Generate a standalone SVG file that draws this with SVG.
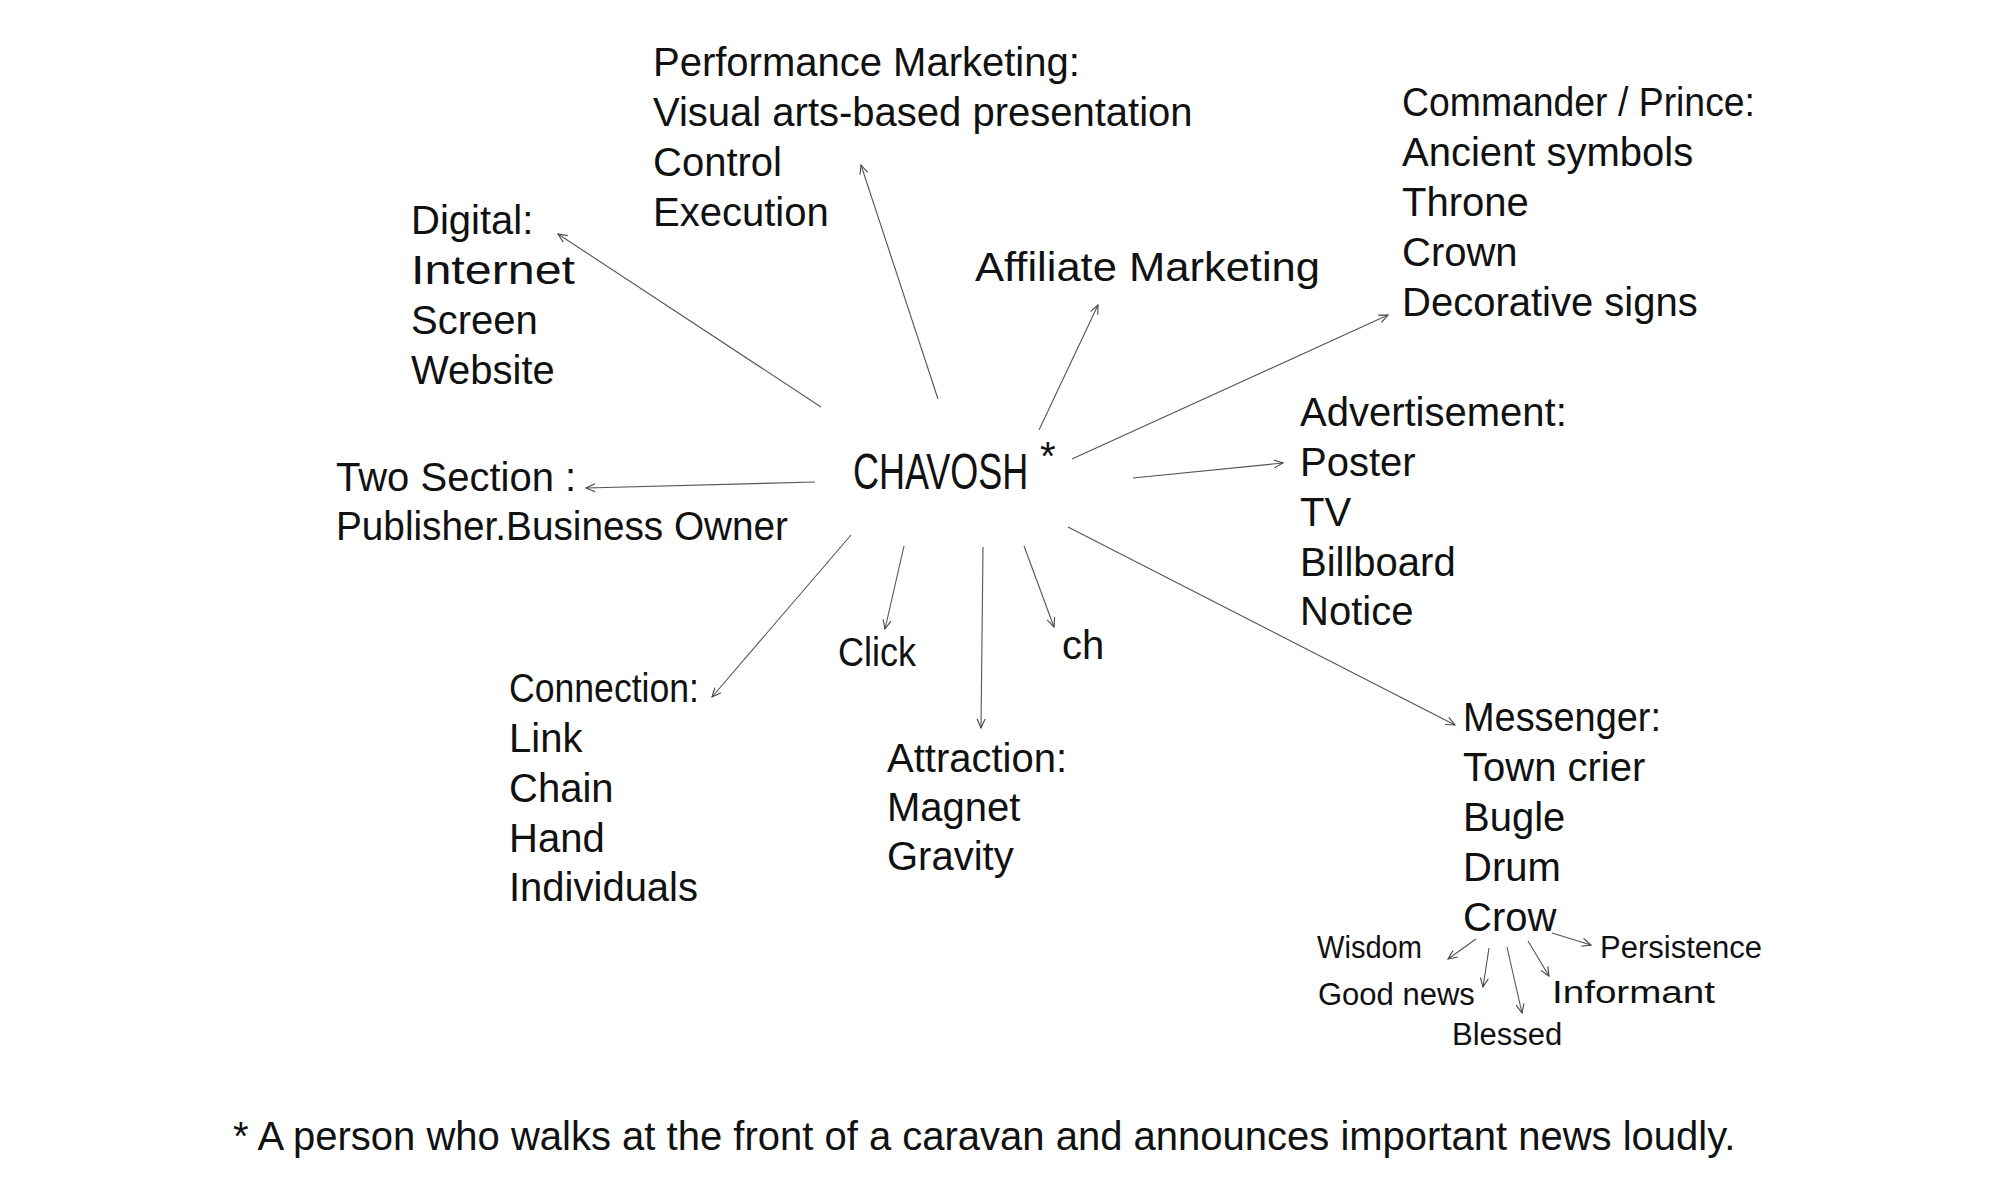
<svg xmlns="http://www.w3.org/2000/svg" width="2000" height="1200" viewBox="0 0 2000 1200">
<style>
text{font-family:"Liberation Sans","DejaVu Sans",sans-serif;fill:#111;}
.t{font-size:40px;}
.s{font-size:31px;}
.c{stroke:#555;stroke-width:1.1;fill:none;marker-end:url(#ah);}
</style>
<defs>
<marker id="ah" markerUnits="userSpaceOnUse" markerWidth="12" markerHeight="12" refX="10" refY="5" orient="auto">
<path d="M1,1 L10,5 L1,9" stroke="#444" stroke-width="1.1" fill="none"/>
</marker>
</defs>
<rect width="2000" height="1200" fill="#fff"/>
<g id="connectors">
<line class="c" x1="821" y1="407" x2="558" y2="234"/>
<line class="c" x1="938" y1="399" x2="861" y2="165"/>
<line class="c" x1="1039" y1="430" x2="1098" y2="305"/>
<line class="c" x1="1072" y1="459" x2="1388" y2="315"/>
<line class="c" x1="1133" y1="478" x2="1283" y2="463"/>
<line class="c" x1="1068" y1="527" x2="1455" y2="725"/>
<line class="c" x1="815" y1="482" x2="586" y2="488"/>
<line class="c" x1="851" y1="535" x2="712" y2="697"/>
<line class="c" x1="904" y1="546" x2="885" y2="629"/>
<line class="c" x1="983" y1="547" x2="981" y2="728"/>
<line class="c" x1="1024" y1="546" x2="1054" y2="627"/>
<line class="c" x1="1476" y1="939" x2="1448" y2="959"/>
<line class="c" x1="1489" y1="948" x2="1483" y2="987"/>
<line class="c" x1="1507" y1="947" x2="1522" y2="1013"/>
<line class="c" x1="1528" y1="941" x2="1549" y2="976"/>
<line class="c" x1="1552" y1="933" x2="1591" y2="945"/>
</g>
<g id="center">
<text transform="translate(853,489) scale(1,1.4)" font-size="36">CHAVOSH</text>
<text x="1040" y="470" font-size="40">*</text>
</g>
<g id="performance">
<text class="t" x="653" y="76">Performance Marketing:</text>
<text class="t" x="653" y="126">Visual arts-based presentation</text>
<text class="t" x="653" y="176">Control</text>
<text class="t" x="653" y="226">Execution</text>
</g>
<g id="digital">
<text class="t" x="411" y="234">Digital:</text>
<text class="t" x="411" y="284" textLength="164" lengthAdjust="spacingAndGlyphs">Internet</text>
<text class="t" x="411" y="334">Screen</text>
<text class="t" x="411" y="384">Website</text>
</g>
<g id="affiliate">
<text class="t" x="975" y="281" textLength="345" lengthAdjust="spacingAndGlyphs">Affiliate Marketing</text>
</g>
<g id="commander">
<text class="t" x="1402" y="116" textLength="353" lengthAdjust="spacingAndGlyphs">Commander / Prince:</text>
<text class="t" x="1402" y="166">Ancient symbols</text>
<text class="t" x="1402" y="216">Throne</text>
<text class="t" x="1402" y="266">Crown</text>
<text class="t" x="1402" y="316">Decorative signs</text>
</g>
<g id="advertisement">
<text class="t" x="1300" y="426">Advertisement:</text>
<text class="t" x="1300" y="476">Poster</text>
<text class="t" x="1300" y="526">TV</text>
<text class="t" x="1300" y="576">Billboard</text>
<text class="t" x="1300" y="625">Notice</text>
</g>
<g id="twosection">
<text class="t" x="336" y="491">Two Section :</text>
<text class="t" x="336" y="540" textLength="452" lengthAdjust="spacingAndGlyphs">Publisher.Business Owner</text>
</g>
<g id="connection">
<text class="t" x="509" y="702" textLength="190" lengthAdjust="spacingAndGlyphs">Connection:</text>
<text class="t" x="509" y="752">Link</text>
<text class="t" x="509" y="802">Chain</text>
<text class="t" x="509" y="852">Hand</text>
<text class="t" x="509" y="901">Individuals</text>
</g>
<g id="click">
<text class="t" x="838" y="666" textLength="78" lengthAdjust="spacingAndGlyphs">Click</text>
</g>
<g id="ch">
<text class="t" x="1062" y="659">ch</text>
</g>
<g id="attraction">
<text class="t" x="887" y="772">Attraction:</text>
<text class="t" x="887" y="821">Magnet</text>
<text class="t" x="887" y="870">Gravity</text>
</g>
<g id="messenger">
<text class="t" x="1463" y="731" textLength="198" lengthAdjust="spacingAndGlyphs">Messenger:</text>
<text class="t" x="1463" y="781">Town crier</text>
<text class="t" x="1463" y="831">Bugle</text>
<text class="t" x="1463" y="881">Drum</text>
<text class="t" x="1463" y="931">Crow</text>
</g>
<g id="wisdom"><text class="s" x="1317" y="958" textLength="105" lengthAdjust="spacingAndGlyphs">Wisdom</text></g>
<g id="goodnews"><text class="s" x="1318" y="1005">Good news</text></g>
<g id="blessed"><text class="s" x="1452" y="1045">Blessed</text></g>
<g id="informant"><text class="s" x="1552" y="1003" textLength="163" lengthAdjust="spacingAndGlyphs">Informant</text></g>
<g id="persistence"><text class="s" x="1600" y="958">Persistence</text></g>
<g id="footnote">
<text class="t" x="233" y="1150">* A person who walks at the front of a caravan and announces important news loudly.</text>
</g>
</svg>
